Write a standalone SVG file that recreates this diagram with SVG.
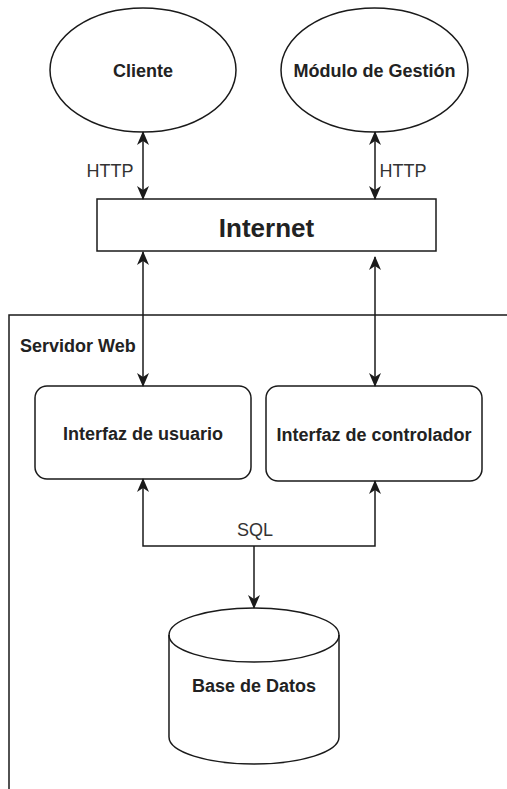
<svg xmlns="http://www.w3.org/2000/svg" width="507" height="789" viewBox="0 0 507 789">
<defs>
<style>
.shape{fill:#ffffff;stroke:#1a1a1a;stroke-width:1.5}
.line{fill:none;stroke:#1a1a1a;stroke-width:1.5}
.lbl{font-family:"Liberation Sans",Arial,sans-serif;font-size:18px;font-weight:bold;fill:#222222;text-anchor:middle}
.reg{font-family:"Liberation Sans",Arial,sans-serif;font-size:18px;fill:#333333;text-anchor:middle}
</style>
<marker id="arr" viewBox="0 0 14 12" refX="13" refY="6" markerWidth="14" markerHeight="12" markerUnits="userSpaceOnUse" orient="auto-start-reverse">
<path d="M0,0 L14,6 L0,12 L4,6 Z" fill="#1a1a1a"/>
</marker>
</defs>
<rect width="507" height="789" fill="#ffffff"/>
<g id="servidor-web">
<rect x="9" y="315" width="520" height="500" fill="none" stroke="#1a1a1a" stroke-width="1.5"/>
<text x="20" y="352" class="lbl" style="text-anchor:start">Servidor Web</text>
</g>
<g id="cliente">
<ellipse cx="143" cy="70" rx="93" ry="62" class="shape"/>
<text x="143" y="77" class="lbl">Cliente</text>
</g>
<g id="modulo-gestion">
<ellipse cx="374.5" cy="70" rx="93.5" ry="62" class="shape"/>
<text x="374.5" y="77" class="lbl">Módulo de Gestión</text>
</g>
<g id="internet">
<rect x="97" y="199" width="339" height="52" class="shape"/>
<text x="266.5" y="237" class="lbl" style="font-size:26px">Internet</text>
</g>
<g id="interfaz-usuario">
<rect x="35" y="386" width="216" height="93" rx="12" ry="12" class="shape"/>
<text x="143" y="440" class="lbl">Interfaz de usuario</text>
</g>
<g id="interfaz-controlador">
<rect x="266" y="386" width="216" height="95" rx="12" ry="12" class="shape"/>
<text x="374" y="441" class="lbl">Interfaz de controlador</text>
</g>
<g id="base-datos">
<path d="M169,635 a85,27 0 0 1 170,0 v102 a85,27 0 0 1 -170,0 Z" class="shape"/>
<path d="M169,635 a85,27 0 0 0 170,0" class="line"/>
<text x="254" y="692" class="lbl">Base de Datos</text>
</g>
<g id="connectors">
<line x1="143" y1="132" x2="143" y2="199" class="line" marker-start="url(#arr)" marker-end="url(#arr)"/>
<line x1="375" y1="132" x2="375" y2="199" class="line" marker-start="url(#arr)" marker-end="url(#arr)"/>
<line x1="143" y1="252" x2="143" y2="386" class="line" marker-start="url(#arr)" marker-end="url(#arr)"/>
<line x1="375" y1="257" x2="375" y2="386" class="line" marker-start="url(#arr)" marker-end="url(#arr)"/>
<polyline points="143,479 143,546 375,546 375,481" class="line" marker-start="url(#arr)" marker-end="url(#arr)"/>
<line x1="254" y1="546" x2="254" y2="608" class="line" marker-end="url(#arr)"/>
<text x="110" y="177" class="reg">HTTP</text>
<text x="403" y="177" class="reg">HTTP</text>
<text x="255" y="536" class="reg">SQL</text>
</g>
</svg>
